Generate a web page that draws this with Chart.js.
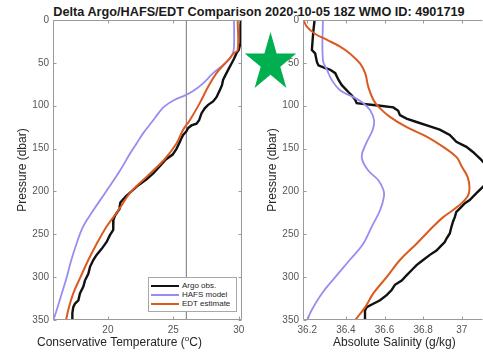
<!DOCTYPE html>
<html>
<head>
<meta charset="utf-8">
<script src="https://cdn.jsdelivr.net/npm/chart.js@4.4.1/dist/chart.umd.min.js"></script>
<style>
  html, body { margin: 0; padding: 0; background: #fff; }
  #wrap { position: relative; width: 483px; height: 354px; overflow: hidden;
          font-family: 'Liberation Sans', Arial, sans-serif; background: #fff; }
  #title { position: absolute; left: 259px; top: 6px; transform: translateX(-50%);
           white-space: nowrap; font-weight: bold; font-size: 12.7px; line-height: 1; color: #1a1a1a; }
  canvas { position: absolute; top: 0; }
  #tempCanvas { left: 0; }
  #salCanvas { left: 250px; }
  .xtitle { position: absolute; top: 335px; font-size: 12px; line-height: 14px; color: #262626; white-space: nowrap; }
  #legend { position: absolute; left: 148px; top: 277px; width: 89px; height: 35px;
            background: #fff; border: 1px solid #a8a8a8; box-sizing: border-box; }
  #legend .row { position: absolute; left: 0; height: 10px; line-height: 10px; font-size: 8px; color: #262626; }
  #legend .sw { position: absolute; left: 2px; top: 4px; width: 28px; height: 2px; }
  #legend .lb { position: absolute; left: 33px; top: 0; white-space: nowrap; }
  #star { position: absolute; left: 0; top: 0; pointer-events: none; }
</style>
</head>
<body>
<div id="wrap">
  <div id="title">Delta Argo/HAFS/EDT Comparison 2020-10-05 18Z WMO ID: 4901719</div>
  <canvas id="tempCanvas" width="250" height="354"></canvas>
  <canvas id="salCanvas" width="233" height="354"></canvas>
  <div class="xtitle" style="left:37px;">Conservative Temperature (<sup style="font-size:8px;line-height:0;">o</sup>C)</div>
  <div class="xtitle" style="left:333px;">Absolute Salinity (g/kg)</div>
  <div id="legend">
    <div class="row" style="top:3px;"><span class="sw" style="background:#111;"></span><span class="lb">Argo obs.</span></div>
    <div class="row" style="top:12px;"><span class="sw" style="background:#978df0;"></span><span class="lb">HAFS model</span></div>
    <div class="row" style="top:21px;"><span class="sw" style="background:#db5a1f;"></span><span class="lb">EDT estimate</span></div>
  </div>
  <svg id="star" width="483" height="354">
    <polygon fill="#00b050"
      points="270.5,32 276.6,53.4 296.2,53.4 280.3,66.7 286.4,88.1 270.5,74.8 254.6,88.1 260.7,66.7 244.8,53.4 264.4,53.4"/>
  </svg>
</div>
<script>
// Pressure levels (dbar) and profile values for each source
const argoTempP = [0,10,20,27,35,39,45,51,55,62,70,76,82,90,95,99,103,109,117,121,123,126,130,134,138,142,150,157,163,170,179,186,193,200,206,213,216,220,228,233,240,245,251,259,267,274,280,288,296,304,311,319,327,331,335,342,350];
const argoTemp  = [30.15,30.15,30.14,30.12,30.0,29.82,29.65,29.44,29.3,29.06,28.8,28.72,28.55,28.3,28.04,27.66,27.4,27.15,26.97,26.77,26.39,26.13,26.0,25.75,25.62,25.5,25.25,24.95,24.4,24.0,23.46,22.95,22.3,21.8,21.35,20.95,20.92,20.9,20.55,20.42,20.41,20.4,20.15,19.9,19.52,19.13,18.88,18.63,18.5,18.24,18.12,17.86,17.74,17.48,17.35,17.28,17.28];

const hafsTempP = [0,31,39,45,51,62,74,82,88,93,101,109,117,132,144,156,175,202,222,241,261,280,300,319,338,350];
const hafsTemp  = [29.64,29.64,29.55,29.3,28.93,28.04,27.27,26.6,25.9,25.1,24.3,23.85,23.46,22.7,22.19,21.68,20.95,19.77,18.88,18.1,17.6,17.2,16.85,16.47,16.09,15.83];

const edtTempP = [0,35,39,45,51,62,78,97,117,128,144,163,183,202,222,241,261,280,300,319,338,350];
const edtTemp  = [29.92,29.92,29.6,29.3,28.93,28.3,27.66,27.02,26.26,25.75,25.24,24.3,22.95,21.68,20.8,19.9,19.14,18.5,17.9,17.35,16.97,16.8];

const argoSalP = [0,12,23,35,39,49,53,56,58,62,70,76,80,84,88,93,97,100,102,106,111,115,119,124,128,134,142,148,154,163,170,180,190,195,202,210,214,218,224,230,235,241,249,255,259,263,269,274,280,286,292,298,304,309,315,321,327,331,335,339,350];
const argoSal  = [36.238,36.232,36.228,36.224,36.241,36.25,36.258,36.293,36.319,36.345,36.362,36.379,36.396,36.413,36.431,36.448,36.456,36.577,36.646,36.671,36.68,36.714,36.766,36.835,36.886,36.938,36.972,37.024,37.058,37.1,37.13,37.16,37.13,37.108,37.076,37.041,37.015,36.998,36.972,36.964,36.955,36.947,36.938,36.921,36.912,36.895,36.869,36.835,36.8,36.766,36.74,36.714,36.689,36.654,36.637,36.611,36.577,36.542,36.508,36.499,36.499];

const hafsSalP = [0,47,58,70,82,90,97,105,117,128,144,160,175,187,198,206,222,241,261,280,300,319,338,350];
const hafsSal  = [36.281,36.281,36.302,36.327,36.37,36.439,36.49,36.525,36.546,36.539,36.505,36.482,36.514,36.568,36.594,36.597,36.577,36.534,36.49,36.42,36.345,36.276,36.224,36.2];

const edtSalP = [0,8,16,23,31,39,51,62,78,93,101,113,125,136,148,160,171,183,195,206,218,230,241,261,280,300,319,335,350];
const edtSal  = [36.18,36.199,36.24,36.3,36.37,36.42,36.474,36.5,36.516,36.542,36.568,36.628,36.715,36.818,36.904,36.973,37.0,37.03,37.04,37.03,36.977,36.904,36.852,36.766,36.68,36.611,36.542,36.5,36.448];

// 26 °C reference isotherm
const refTemp = 26;

// Axis ticks
const pressureTicks = [0,50,100,150,200,250,300,350];
const tempTicks = [20,25,30];
const salTicks = [36.2,36.4,36.6,36.8,37];

const FONT = "'Liberation Sans', Arial, sans-serif";
const C_ARGO = '#111111', C_HAFS = '#978df0', C_EDT = '#db5a1f', C_REF = '#8f8f8f';

const pts = (xs, ps) => xs.map((v, i) => ({ x: v, y: ps[i] }));

function series(data, color, width, tension, order) {
  return { data, borderColor: color, borderWidth: width, showLine: true, pointRadius: 0,
           tension, fill: false, order };
}

// Box outline with inward tick marks on all sides
const framePlugin = {
  id: 'frame',
  afterDatasetsDraw(chart, args, opts) {
    const { ctx, chartArea: a, scales } = chart;
    const L = Math.round(a.left) + 0.5, R = Math.round(a.right) - 0.5;
    const T = Math.round(a.top) + 0.5, B = Math.round(a.bottom) - 0.5;
    ctx.save();
    ctx.strokeStyle = '#9a9a9a';
    ctx.lineWidth = 1;
    ctx.beginPath();
    ctx.moveTo(R, T); ctx.lineTo(L, T); ctx.lineTo(L, B); ctx.lineTo(R, B);
    if (opts.right !== false) { ctx.moveTo(R, T); ctx.lineTo(R, B); }
    const len = 3;
    scales.x.ticks.forEach(t => {
      const px = Math.round(scales.x.getPixelForValue(t.value)) + 0.5;
      ctx.moveTo(px, T); ctx.lineTo(px, T + len);
      ctx.moveTo(px, B); ctx.lineTo(px, B - len);
    });
    scales.y.ticks.forEach(t => {
      const py = Math.round(scales.y.getPixelForValue(t.value)) + 0.5;
      ctx.moveTo(L, py); ctx.lineTo(L + len, py);
      if (opts.right !== false) { ctx.moveTo(R, py); ctx.lineTo(R - len, py); }
    });
    ctx.stroke();
    ctx.restore();
  }
};

function options(xMin, xMax, xTicks, padRight, rightBorder) {
  return {
    responsive: false,
    maintainAspectRatio: false,
    animation: false,
    events: [],
    layout: { padding: { top: 20, right: padRight, left: 0, bottom: 0 } },
    plugins: {
      legend: { display: false },
      tooltip: { enabled: false },
      frame: { right: rightBorder }
    },
    scales: {
      x: {
        type: 'linear', min: xMin, max: xMax,
        afterBuildTicks: s => { s.ticks = xTicks.map(v => ({ value: v })); },
        afterFit: s => { s.height = 34; },
        grid: { display: false, drawTicks: false },
        border: { display: false },
        ticks: { color: '#555', font: { family: FONT, size: 10 }, padding: 4,
                 maxRotation: 0, autoSkip: false, callback: v => String(v) }
      },
      y: {
        type: 'linear', reverse: true, min: 0, max: 350,
        afterBuildTicks: s => { s.ticks = pressureTicks.map(v => ({ value: v })); },
        afterFit: s => { s.width = 53; },
        grid: { display: false, drawTicks: false },
        border: { display: false },
        ticks: { color: '#555', font: { family: FONT, size: 10 }, padding: 4, autoSkip: false },
        title: { display: true, text: 'Pressure (dbar)', color: '#262626',
                 font: { family: FONT, size: 12 }, padding: { top: 15, bottom: 0 } }
      }
    }
  };
}

new Chart(document.getElementById('tempCanvas'), {
  type: 'scatter',
  data: {
    datasets: [
      series(pts(argoTemp, argoTempP), C_ARGO, 2.4, 0, 3),
      series(pts(hafsTemp, hafsTempP), C_HAFS, 1.8, 0.4, 2),
      series(pts(edtTemp, edtTempP), C_EDT, 2, 0.4, 1),
      series([{ x: refTemp, y: 0 }, { x: refTemp, y: 350 }], C_REF, 1, 0, 4)
    ]
  },
  options: options(15.8, 30.25, tempTicks, 8, true),
  plugins: [framePlugin]
});

new Chart(document.getElementById('salCanvas'), {
  type: 'scatter',
  data: {
    datasets: [
      series(pts(argoSal, argoSalP), C_ARGO, 2.4, 0, 3),
      series(pts(hafsSal, hafsSalP), C_HAFS, 1.8, 0.4, 2),
      series(pts(edtSal, edtSalP), C_EDT, 2, 0.4, 1)
    ]
  },
  options: options(36.178, 37.11, salTicks, 0, false),
  plugins: [framePlugin]
});
</script>
</body>
</html>
